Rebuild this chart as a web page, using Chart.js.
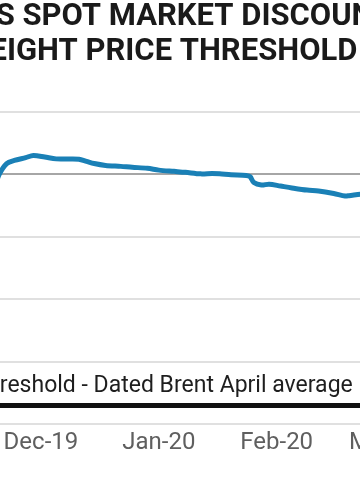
<!DOCTYPE html>
<html>
<head>
<meta charset="utf-8">
<script src="https://cdn.jsdelivr.net/npm/chart.js@4/dist/chart.umd.min.js"></script>
<style>
  html, body { margin: 0; padding: 0; background: #fff; }
  #wrap { width: 360px; height: 504px; overflow: hidden; position: relative; }
  #wrap canvas { position: absolute; left: -125px; top: 0; }
</style>
</head>
<body>
<div id="wrap"><canvas id="chart" width="560" height="504"></canvas></div>
<script>
// days counted from 1 Dec 2019
const days = [-12, -11, -9, -7, -4, -2, 1, 4, 8, 10, 12, 14, 17, 21, 24, 28, 31, 35, 38, 42, 45, 47, 50, 54, 55, 56, 58, 60, 63, 66, 70, 73, 77, 80, 81, 84, 87];
const discount = [-0.35, 0, 0.35, 0.45, 0.54, 0.61, 0.56, 0.50, 0.50, 0.49, 0.42, 0.35, 0.29, 0.26, 0.23, 0.20, 0.14, 0.10, 0.07, 0.02, 0.03, 0.02, -0.01, -0.03, -0.07, -0.26, -0.34, -0.31, -0.37, -0.43, -0.50, -0.53, -0.61, -0.69, -0.68, -0.63, -0.6];

const thresholdValue = -7.4;
const monthTicks = [-30, 0, 31, 62, 91];
const monthLabels = ['Nov-19', 'Dec-19', 'Jan-20', 'Feb-20', 'Mar-20'];
const xMin = -41, xMax = 101;

const thresholdLabel = {
  id: 'thresholdLabel',
  afterDatasetsDraw(chart) {
    const { ctx, scales } = chart;
    const y = scales.y.getPixelForValue(thresholdValue);
    const x = scales.x.getPixelForValue(82);
    ctx.save();
    ctx.font = '23px Roboto';
    ctx.fillStyle = '#1e1e1e';
    ctx.textAlign = 'right';
    ctx.textBaseline = 'alphabetic';
    ctx.fillText('Threshold - Dated Brent April average', x, y - 13);
    ctx.restore();
  }
};

new Chart(document.getElementById('chart'), {
  type: 'line',
  data: {
    datasets: [
      {
        label: 'Urals spot market discount',
        data: days.map((d, i) => ({ x: d, y: discount[i] })),
        borderColor: '#1a80b6',
        borderWidth: 5,
        pointRadius: 0,
        tension: 0.3,
        fill: false
      },
      {
        label: 'Threshold - Dated Brent April average',
        data: [{ x: xMin, y: thresholdValue }, { x: xMax, y: thresholdValue }],
        borderColor: '#111',
        borderWidth: 5,
        pointRadius: 0,
        fill: false
      }
    ]
  },
  options: {
    responsive: false,
    animation: false,
    layout: { padding: { left: 10, right: 10, top: 0, bottom: 43 } },
    plugins: {
      legend: { display: false },
      tooltip: { enabled: false },
      title: {
        display: true,
        text: ['URALS SPOT MARKET DISCOUNT', 'FREIGHT PRICE THRESHOLD'],
        color: '#1a1a1a',
        font: { family: 'Roboto', size: 31, weight: 'bold', lineHeight: 1.13 },
        padding: { top: 0, bottom: 42 }
      }
    },
    scales: {
      x: {
        type: 'linear',
        min: xMin,
        max: xMax,
        afterBuildTicks: (axis) => { axis.ticks = monthTicks.map(v => ({ value: v })); },
        ticks: {
          autoSkip: false,
          maxRotation: 0,
          color: '#5f5f5f',
          font: { family: 'Roboto', size: 24 },
          padding: 4,
          callback: (v) => monthLabels[monthTicks.indexOf(v)]
        },
        grid: { display: false, drawTicks: false },
        border: { display: false }
      },
      y: {
        min: -8,
        max: 2,
        ticks: { display: false, stepSize: 2 },
        grid: {
          drawTicks: false,
          lineWidth: 2,
          color: (c) => c.tick && c.tick.value === 0 ? '#a6a6a6' : '#e0e0e0'
        },
        border: { display: false }
      }
    }
  },
  plugins: [thresholdLabel]
});
</script>
</body>
</html>
